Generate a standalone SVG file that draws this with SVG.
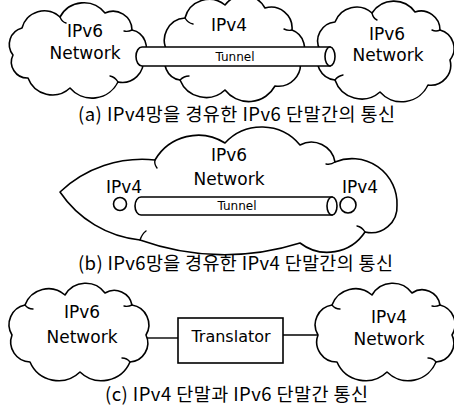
<svg xmlns="http://www.w3.org/2000/svg" width="454" height="408" viewBox="0 0 454 408">
<style>
.cloud{fill:#fff;stroke:#000;stroke-width:1.6;stroke-linejoin:round}
.hook{fill:none;stroke:#000;stroke-width:1.4;stroke-linecap:round}
.lbl{font-family:"DejaVu Sans","Open Sans",sans-serif;font-size:17px;fill:#000;text-anchor:middle}
.small{font-family:"DejaVu Sans",sans-serif;font-size:12px;fill:#000;text-anchor:middle}
.tr{font-family:"DejaVu Sans",sans-serif;font-size:16px;fill:#000;text-anchor:middle}
.cap{font-family:"Noto Sans CJK KR","Noto Sans",sans-serif;font-size:18.5px;fill:#000}
.tube{fill:#fff;stroke:#000;stroke-width:1.6}
.line{fill:none;stroke:#000;stroke-width:1.4}
</style>
<rect width="454" height="408" fill="#fff"/>

<!-- (a) -->
<g id="a-left-ipv6">
<path class="cloud" d="M13,55 A17,17 0 0 1 22,28 A23,23 0 0 1 60,17 A27,27 0 0 1 105,13 A19,19 0 0 1 132,30 A18,18 0 0 1 143,58 A21,21 0 0 1 118,82 A29,29 0 0 1 70,88 A26,26 0 0 1 28,78 A16,16 0 0 1 13,55 Z"/>
<path class="hook" d="M60,17 q2,5 6,6 M132,30 q-4,2 -8,1 M118,82 q-3,-5 -8,-6"/>
<text class="lbl" x="85" y="37">IPv6</text>
<text class="lbl" x="85" y="59">Network</text>
</g>
<g id="a-mid-ipv4">
<path class="cloud" d="M168,52 A22,22 0 0 1 185,18 A25,25 0 0 1 225,5 A24,24 0 0 1 265,8 A21,21 0 0 1 292,30 A19,19 0 0 1 300,60 A22,22 0 0 1 275,86 A30,30 0 0 1 225,90 A28,28 0 0 1 180,80 A18,18 0 0 1 168,52 Z"/>
<path class="hook" d="M185,18 q3,5 8,6 M292,30 q-4,1 -8,-1 M180,80 q4,-4 9,-4"/>
<text class="lbl" x="229" y="31">IPv4</text>
</g>
<g id="a-right-ipv6">
<path class="cloud" d="M320,50 A19,19 0 0 1 335,22 A23,23 0 0 1 372,13 A26,26 0 0 1 415,12 A19,19 0 0 1 440,30 A19,19 0 0 1 450,60 A20,20 0 0 1 428,85 A29,29 0 0 1 380,92 A28,28 0 0 1 335,80 A20,20 0 0 1 320,50 Z"/>
<path class="hook" d="M372,13 q1,5 5,7 M440,30 q-4,2 -8,0 M335,80 q3,-4 8,-5"/>
<text class="lbl" x="387" y="40">IPv6</text>
<text class="lbl" x="388" y="61">Network</text>
</g>
<g id="a-tunnel">
<path class="tube" d="M330,47 L142,47 A6,9.5 0 0 0 142,66 L330,66 Z"/>
<ellipse class="tube" cx="330" cy="56.5" rx="5" ry="9.5"/>
<text class="small" x="235" y="61">Tunnel</text>
</g>
<text class="cap" x="78" y="121" textLength="317">(a) IPv4망을 경유한 IPv6 단말간의 통신</text>

<!-- (b) -->
<g id="b-ipv6-network">
<path class="cloud" d="M60,192 A120,120 0 0 1 155,160 A50,50 0 0 1 225,143 A50,50 0 0 1 300,145 A24,24 0 0 1 335,162 A45,45 0 0 1 397,205 A26,26 0 0 1 365,232 A45,45 0 0 1 300,243 A250,250 0 0 1 140,240 A110,110 0 0 1 60,192 Z"/>
<path class="hook" d="M155,160 q-1,4 2,8 M335,162 q-4,3 -9,2 M365,232 q-3,-5 -8,-6 M140,240 q2,-6 6,-9"/>
<text class="lbl" x="229" y="161">IPv6</text>
<text class="lbl" x="229" y="185">Network</text>
</g>
<g id="b-ipv4-left">
<circle cx="120" cy="204" r="6.5" fill="#fff" stroke="#000" stroke-width="1.6"/>
<text class="lbl" x="124" y="193">IPv4</text>
</g>
<g id="b-ipv4-right">
<circle cx="348" cy="205" r="8" fill="#fff" stroke="#000" stroke-width="1.6"/>
<text class="lbl" x="360" y="193">IPv4</text>
</g>
<g id="b-tunnel">
<path class="tube" d="M332,197 L141,197 A6,9 0 0 0 141,215 L332,215 Z"/>
<ellipse class="tube" cx="332" cy="206" rx="5" ry="9"/>
<text class="small" x="237" y="210">Tunnel</text>
</g>
<text class="cap" x="78" y="270" textLength="315">(b) IPv6망을 경유한 IPv4 단말간의 통신</text>

<!-- (c) -->
<g id="connectors">
<line class="line" x1="146" y1="338" x2="178" y2="338"/>
<line class="line" x1="283" y1="335" x2="319" y2="335"/>
</g>
<g id="c-left-ipv6">
<path class="cloud" d="M12,335 A20,20 0 0 1 25,305 A25,25 0 0 1 65,295 A24,24 0 0 1 105,293 A18,18 0 0 1 132,305 A20,20 0 0 1 146,335 A19,19 0 0 1 130,362 A31,31 0 0 1 80,372 A31,31 0 0 1 30,362 A20,20 0 0 1 12,335 Z"/>
<path class="hook" d="M25,305 q3,4 8,4 M132,305 q-4,2 -8,1 M130,362 q-3,-4 -8,-4"/>
<text class="lbl" x="82" y="318">IPv6</text>
<text class="lbl" x="82" y="343">Network</text>
</g>
<g id="c-translator">
<rect x="178" y="318" width="105" height="45" fill="#fff" stroke="#000" stroke-width="1.6"/>
<text class="tr" x="231" y="342">Translator</text>
</g>
<g id="c-right-ipv4">
<path class="cloud" d="M318,335 A20,20 0 0 1 332,305 A25,25 0 0 1 372,295 A24,24 0 0 1 412,293 A18,18 0 0 1 440,305 A20,20 0 0 1 452,335 A19,19 0 0 1 436,362 A30,30 0 0 1 387,372 A31,31 0 0 1 337,362 A20,20 0 0 1 318,335 Z"/>
<path class="hook" d="M332,305 q3,4 8,4 M440,305 q-4,2 -8,1 M436,362 q-3,-4 -8,-4"/>
<text class="lbl" x="389" y="323">IPv4</text>
<text class="lbl" x="389" y="345">Network</text>
</g>
<text class="cap" x="105" y="401" textLength="263">(c) IPv4 단말과 IPv6 단말간 통신</text>
</svg>
